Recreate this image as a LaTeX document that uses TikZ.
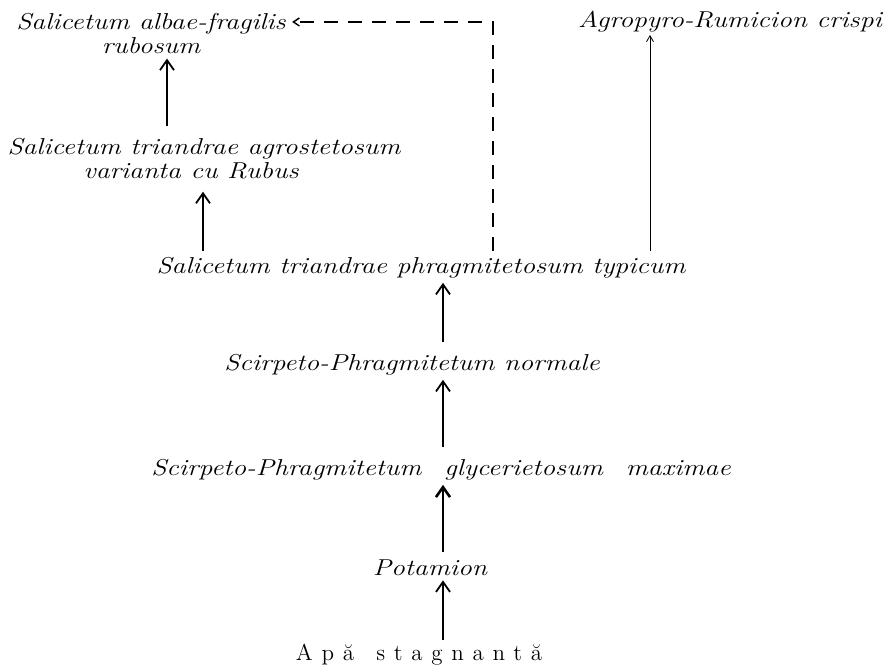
\documentclass[tikz,border=0pt]{standalone}
\usepackage{fontspec}
\usetikzlibrary{arrows.meta}
\newfontfamily\plantfont[FakeStretch=1.2]{Latin Modern Roman}
\newfontfamily\waterfont[LetterSpace=38]{Latin Modern Roman}
\begin{document}
\begin{tikzpicture}[x=0.5pt,y=-0.5pt,
  every node/.style={font=\fontsize{11.5}{12}\plantfont\itshape, inner sep=0pt},
  up/.style={-{Straight Barb[length=5pt,width=7pt]}, line width=0.9pt},
  thickup/.style={up, line width=1.3pt},
  thinup/.style={-{Straight Barb[length=3pt,width=3.5pt]}, line width=0.4pt},
  link/.style={-{Straight Barb[length=3pt,width=4pt]}, line width=0.7pt, dash pattern=on 7pt off 5pt}]
\useasboundingbox (0,0) rectangle (885,667);
% columns of the connectors
\coordinate (left) at (167,0);
\coordinate (mid) at (203,0);
\coordinate (spine) at (443,0);
\coordinate (turn) at (493,22);
\coordinate (right) at (650,0);
% associations
\node[align=center] (alb) at (151,34) {Salicetum albae-fragilis\\rubosum};
\node[align=center] (agr) at (204,159) {Salicetum triandrae agrostetosum\\varianta cu Rubus\hspace*{13pt}};
\node (agro) at (730,22) {Agropyro-Rumicion crispi};
\node (phr) at (421,268) {Salicetum triandrae phragmitetosum typicum};
\node (nor) at (412,365) {Scirpeto-Phragmitetum normale};
\node (gly) at (441,470) {Scirpeto-Phragmitetum\quad glycerietosum\quad maximae};
\node (pot) at (430,568) {Potamion};
\node[font=\fontsize{11.5}{12}\waterfont] (apa) at (419,655) {Apă\hspace{3pt} stagnantă};
% succession
\draw[up] ([yshift=2pt]apa.north -| spine) -- ([yshift=-2pt]pot.south -| spine);
\draw[thickup] ([yshift=4pt]pot.north -| spine) -- ([yshift=-2pt]gly.south -| spine);
\draw[up] ([yshift=6pt]gly.north -| spine) -- ([yshift=-2pt]nor.south -| spine);
\draw[up] ([yshift=6pt]nor.north -| spine) -- ([yshift=-2pt]phr.south -| spine);
\draw[up] ([yshift=3pt]phr.north -| mid) -- ([yshift=-6pt]agr.south -| mid);
\draw[up] ([yshift=6pt]agr.north -| left) -- ([yshift=-2pt]alb.south -| left);
\draw[thinup] ([yshift=3pt]phr.north -| right) -- ([yshift=-1pt]agro.south -| right);
\draw[link] ([yshift=3pt]phr.north -| turn) -- (turn) -- ([xshift=3pt]alb.east |- turn);
\end{tikzpicture}
\end{document}
